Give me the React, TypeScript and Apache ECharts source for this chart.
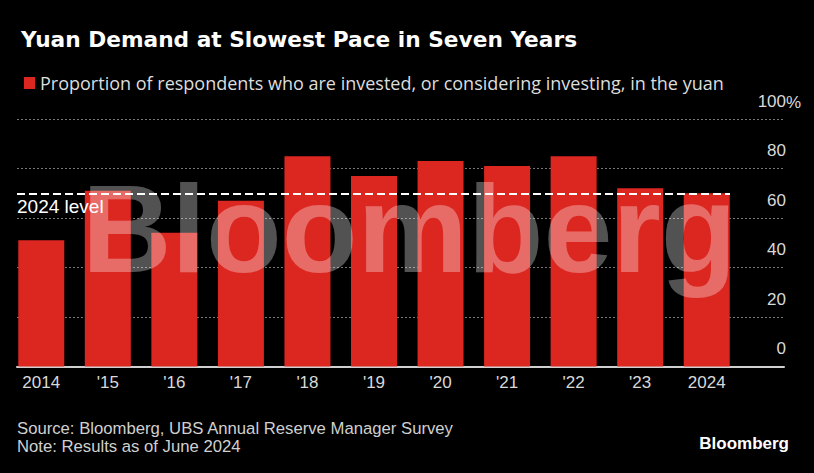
import React, { useEffect, useRef } from "react";
import * as echarts from "echarts";

const categories = ["2014", "'15", "'16", "'17", "'18", "'19", "'20", "'21", "'22", "'23", "2024"];
const shareValues = [51, 71, 54, 67, 85, 77, 83, 81, 85, 72, 70];
const yTicks = { min: 0, max: 100, interval: 20 };
const seriesName = "Proportion of respondents who are invested, or considering investing, in the yuan";
const titleText = "Yuan Demand at Slowest Pace in Seven Years";
const sourceText = "Source: Bloomberg, UBS Annual Reserve Manager Survey";
const noteText = "Note: Results as of June 2024";
const levelLabel = "2024 level";

const FONT = "'Liberation Sans', Arial, sans-serif";
const OPEN = "'Open Sans', 'Liberation Sans', sans-serif";
const DEJA = "'DejaVu Sans', 'Open Sans', sans-serif";

export default function App() {
  const ref = useRef<HTMLDivElement>(null);
  useEffect(() => {
    document.body.style.margin = "0";
    document.body.style.background = "#000";
    const chart = echarts.init(ref.current!, null, { renderer: "svg" });
    const lastValue = shareValues[shareValues.length - 1];
    chart.setOption({
      animation: false,
      backgroundColor: "#000",
      textStyle: { fontFamily: FONT },
      title: {
        text: titleText,
        left: 16,
        top: 23,
        textStyle: { color: "#fff", fontSize: 21.7, fontWeight: "bold", fontFamily: DEJA },
      },
      legend: {
        left: 19,
        top: 69,
        icon: "rect",
        itemWidth: 11,
        itemHeight: 12,
        itemGap: 0,
        data: [seriesName],
        textStyle: { color: "#ddd", fontSize: 18, fontFamily: OPEN, padding: [0, 0, 0, 0] },
      },
      grid: [
        { left: 17, right: 30, top: 119, bottom: 106.5 },
        { left: 8, right: 74, top: 119, bottom: 106.5 },
      ],
      xAxis: [
        {
          gridIndex: 0,
          type: "value",
          min: 0,
          max: 1,
          axisLine: { show: true, lineStyle: { color: "#d0d0d0", width: 2 } },
          axisTick: { show: false },
          axisLabel: { show: false },
          splitLine: { show: false },
        },
        {
          gridIndex: 1,
          type: "category",
          data: categories,
          axisLine: { show: false },
          axisTick: { show: false },
          axisLabel: { color: "#d9d9d9", fontSize: 17, margin: 7, fontFamily: FONT },
        },
      ],
      yAxis: [
        {
          gridIndex: 0,
          type: "value",
          position: "right",
          min: yTicks.min,
          max: yTicks.max,
          interval: yTicks.interval,
          axisLine: { show: false },
          axisTick: { show: false },
          splitLine: { show: true, lineStyle: { color: "#777", type: [2, 2], width: 1 } },
          axisLabel: {
            color: "#d9d9d9",
            fontSize: 17,
            fontFamily: FONT,
            align: "right",
            margin: 2,
            verticalAlign: "bottom",
            lineHeight: 36,
          },
        },
        {
          gridIndex: 1,
          type: "value",
          min: yTicks.min,
          max: yTicks.max,
          show: false,
        },
      ],
      series: [
        {
          name: seriesName,
          type: "bar",
          xAxisIndex: 1,
          yAxisIndex: 1,
          data: shareValues,
          barWidth: 46,
          itemStyle: { color: "#dc2620" },
          markLine: {
            silent: true,
            symbol: ["none", "none"],
            lineStyle: { color: "#fff", type: [8, 4], width: 2 },
            label: {
              show: true,
              position: "insideStartBottom",
              formatter: levelLabel,
              color: "#fff",
              fontSize: 19,
              fontFamily: FONT,
              distance: [0, 4],
            },
            data: [
              [
                { coord: [0, lastValue], x: 17 },
                { coord: [categories.length - 1, lastValue], x: 730 },
              ],
            ],
          },
        },
      ],
      graphic: [
        {
          type: "text",
          left: 786,
          top: 94,
          style: { text: "%", fill: "#d9d9d9", font: `17px ${FONT}` },
        },
        {
          type: "text",
          x: 82,
          y: 229,
          z: 100,
          silent: true,
          style: {
            text: "Bloomberg",
            fill: "rgba(255,255,255,0.32)",
            font: `bold 124px ${FONT}`,
            verticalAlign: "middle",
          },
        },
        {
          type: "text",
          left: 17,
          top: 420,
          style: { text: sourceText, fill: "#d0d0d0", font: `16.7px ${FONT}` },
        },
        {
          type: "text",
          left: 17,
          top: 438,
          style: { text: noteText, fill: "#d0d0d0", font: `16.7px ${FONT}` },
        },
        {
          type: "text",
          right: 25,
          top: 435,
          style: { text: "Bloomberg", fill: "#fff", font: `bold 17px ${FONT}` },
        },
      ],
    });
    return () => chart.dispose();
  }, []);
  return <div ref={ref} style={{ position: "absolute", left: 0, top: 0, width: 814, height: 473, background: "#000" }} />;
}
